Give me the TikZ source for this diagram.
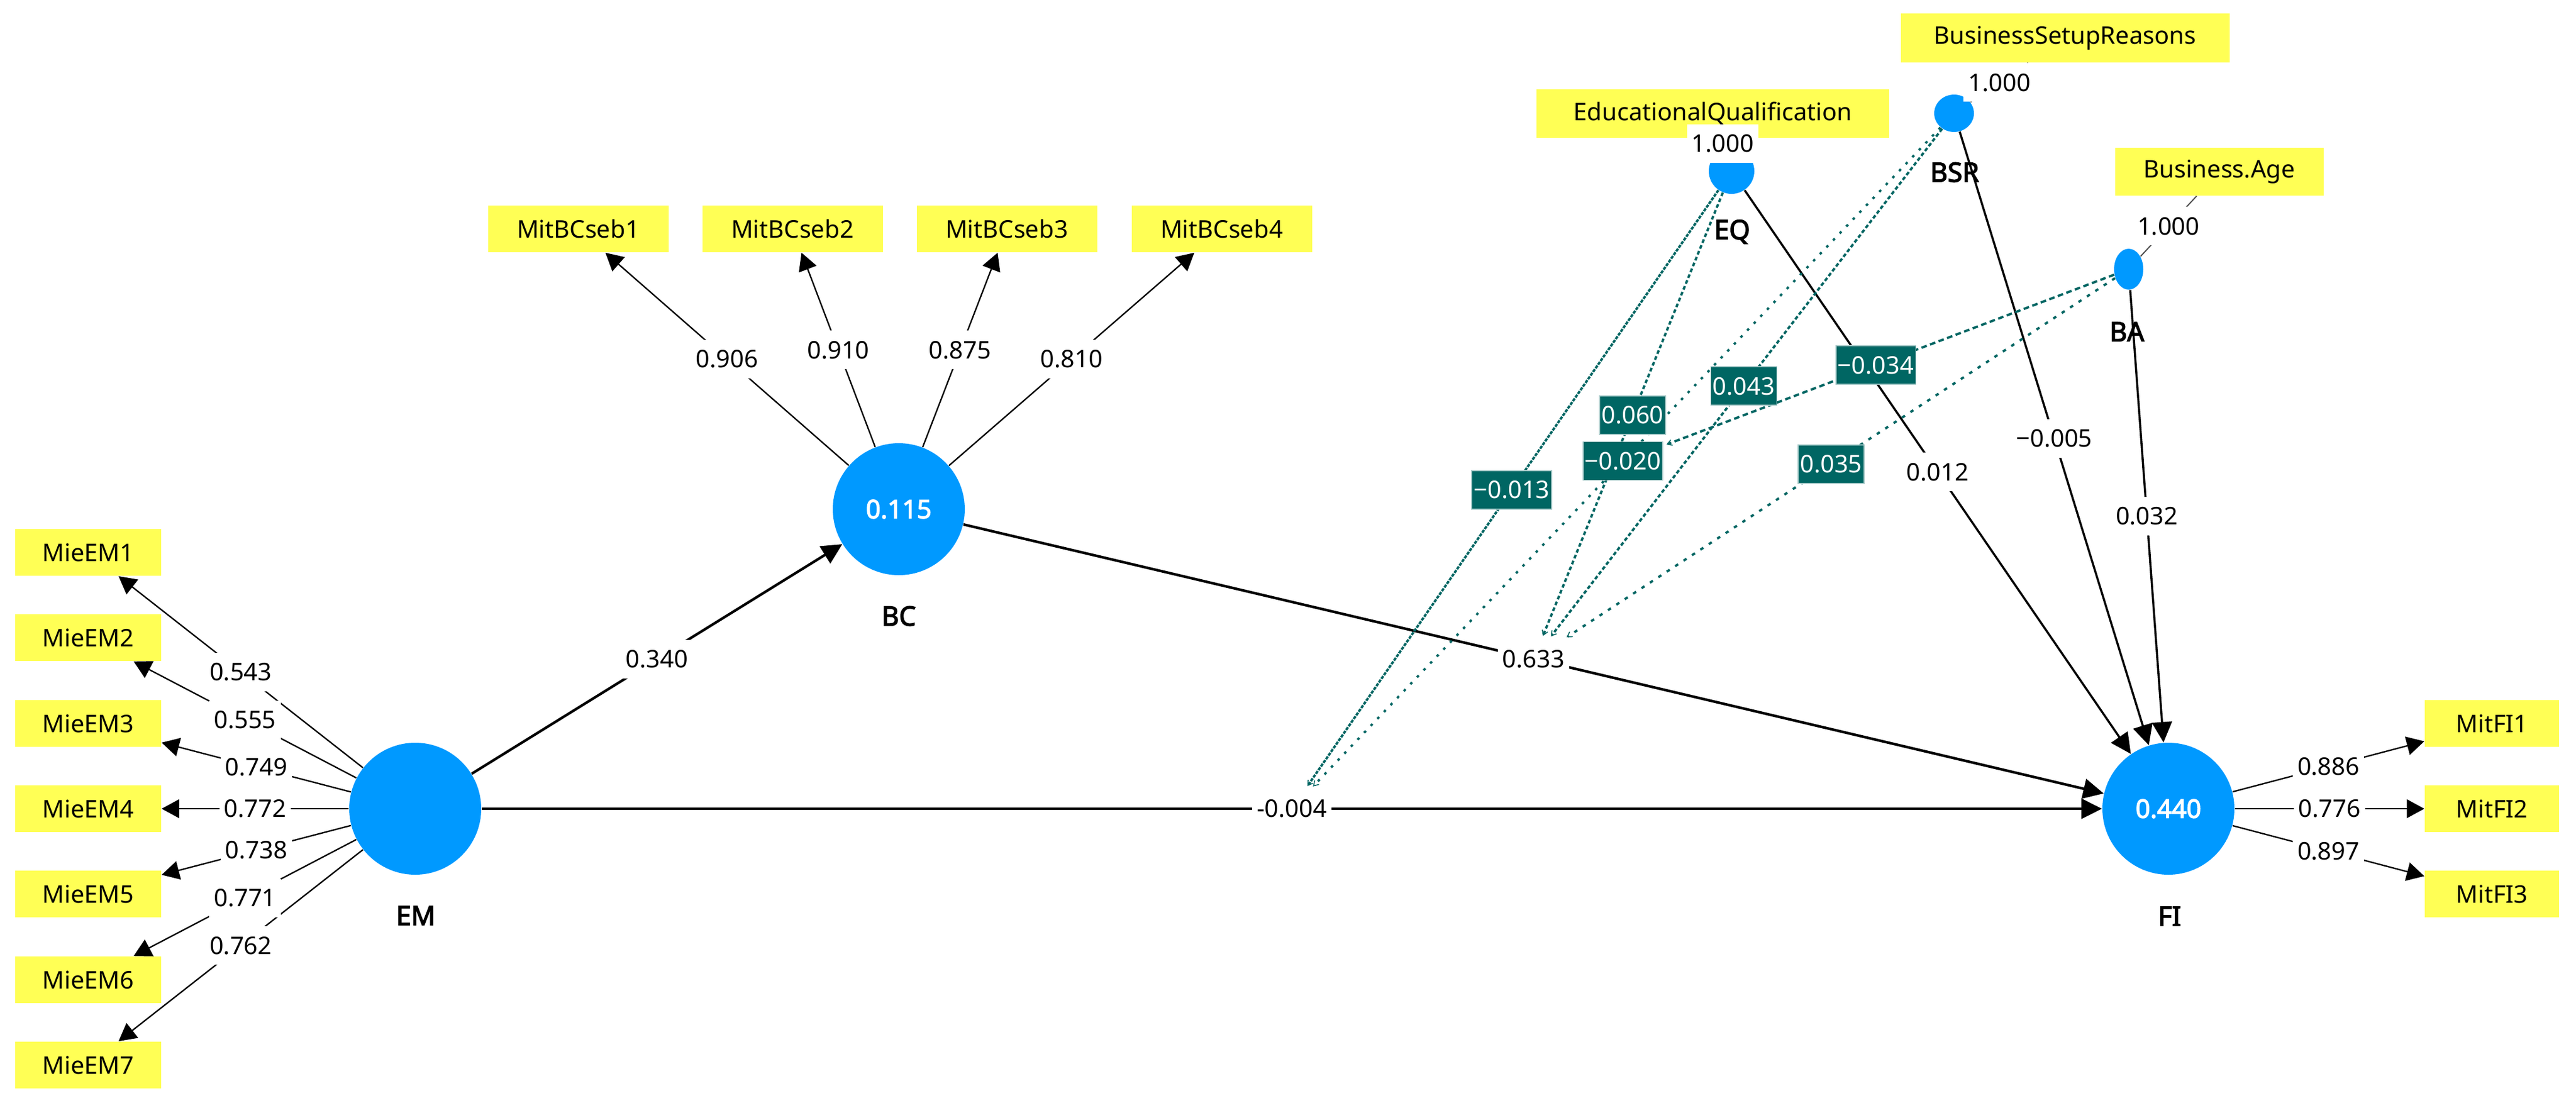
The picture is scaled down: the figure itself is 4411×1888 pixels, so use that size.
\documentclass[tikz,border=0pt]{standalone}
\usepackage{fontspec}
\setmainfont{Noto Sans}[AutoFakeBold=3]
\usetikzlibrary{arrows.meta,shapes.geometric}
\definecolor{pblue}{RGB}{0,153,255}
\definecolor{pyellow}{RGB}{255,255,85}
\definecolor{pteal}{RGB}{0,102,99}
\pgfdeclarelayer{edges}
\pgfdeclarelayer{labels}
\pgfsetlayers{edges,main,labels}
\begin{document}
\begin{tikzpicture}[x={(0.25pt,0)},y={(0,-0.25pt)},
 lv/.style={circle,fill=pblue,minimum size=56.5pt,inner sep=0pt,text=white,font=\fontsize{11}{13}\selectfont\bfseries},
 ind/.style={rectangle,fill=pyellow,inner sep=0pt,minimum height=20pt,font=\fontsize{10.4}{12}\selectfont},
 nm/.style={font=\fontsize{11.5}{13}\selectfont\bfseries},
 wl/.style={fill=white,inner xsep=2pt,inner ysep=0pt,minimum height=16.5pt,font=\fontsize{10.4}{12}\selectfont},
 tl/.style={fill=pteal,draw=pteal!35!white,line width=0.4pt,text=white,inner xsep=0.8pt,inner ysep=0pt,minimum height=16.5pt,font=\fontsize{10.4}{12}\selectfont},
 ld/.style={line width=0.6pt,-{Triangle[length=7.5pt,width=8pt]}},
 sp/.style={line width=1.1pt,-{Triangle[length=8.75pt,width=8.5pt]}},
 sptwo/.style={line width=0.9pt,-{Triangle[length=8.75pt,width=8.5pt]}},
 md/.style={pteal,line width=1pt,shorten >=1.5pt,-{Straight Barb[length=2pt,width=2.5pt,line width=0.4pt]}},
 sl/.style={line width=0.5pt,draw=black!70}
]
\useasboundingbox (0,0) rectangle (4411,1888);

% latent variables
\node[lv] (EM) at (711,1385) {};
\node[lv] (BC) at (1539,872) {0.115};
\node[lv] (FI) at (3713,1385) {0.440};
\node[circle,fill=pblue,minimum size=19.5pt,inner sep=0pt] (EQ) at (2965,293) {};
\node[ellipse,fill=pblue,minimum width=17pt,minimum height=16pt,inner sep=0pt] (BSR) at (3346,194) {};
\node[ellipse,fill=pblue,minimum width=12.5pt,minimum height=17.5pt,inner sep=0pt] (BA) at (3645,461) {};

\node[nm] (nEM) at (712,1568) {EM};
\node[nm] (nBC) at (1539,1055) {BC};
\node[nm] (nFI) at (3715,1569) {FI};
\node[nm] (nEQ) at (2966,397) {EQ};
\node[nm] (nBSR) at (3347,295) {BSR};
\node[nm] (nBA) at (3642,568) {BA};

% indicators
\foreach \i/\yy in {1/946,2/1092,3/1239,4/1385,5/1531,6/1678,7/1824}{
  \node[ind,minimum width=62.5pt] (MieEM\i) at (151,\yy) {MieEM\i};
}
\foreach \i/\xx in {1/990,2/1357,3/1724,4/2092}{
  \node[ind,minimum width=77.25pt] (MitBCseb\i) at (\xx,392) {MitBCseb\i};
}
\foreach \i/\yy in {1/1239,2/1385,3/1531}{
  \node[ind,minimum width=57.5pt] (MitFI\i) at (4267,\yy) {MitFI\i};
}
\node[ind,minimum width=151pt,minimum height=20.75pt] (EQbox) at (2933,194.5) {EducationalQualification};
\node[ind,minimum width=140.75pt,minimum height=21pt] (BSRbox) at (3536,65) {BusinessSetupReasons};
\node[ind,minimum width=89.25pt,minimum height=20.5pt] (BAbox) at (3800,294) {Business.Age};

% loadings
\foreach \i/\v in {1/0.543,2/0.555,3/0.749,4/0.772,5/0.738,6/0.771,7/0.762}{
  \begin{pgfonlayer}{edges}\draw[ld] (EM) -- (MieEM\i);\end{pgfonlayer}
  \begin{pgfonlayer}{labels}\path (EM) -- (MieEM\i) node[wl,midway] (lEM\i) {\v};\end{pgfonlayer}
}
\foreach \i/\v in {1/0.906,2/0.910,3/0.875,4/0.810}{
  \begin{pgfonlayer}{edges}\draw[ld] (BC) -- (MitBCseb\i);\end{pgfonlayer}
  \begin{pgfonlayer}{labels}\path (BC) -- (MitBCseb\i) node[wl,midway] (lBC\i) {\v};\end{pgfonlayer}
}
\foreach \i/\v in {1/0.886,2/0.776,3/0.897}{
  \begin{pgfonlayer}{edges}\draw[ld] (FI) -- (MitFI\i);\end{pgfonlayer}
  \begin{pgfonlayer}{labels}\path (FI) -- (MitFI\i) node[wl,midway] (lFI\i) {\v};\end{pgfonlayer}
}
\begin{pgfonlayer}{edges}
  \draw[sl] (EQ) -- (EQbox);
  \draw[sl] (BSR) -- (BSRbox);
  \draw[sl] (BA) -- (BAbox);
\end{pgfonlayer}
\begin{pgfonlayer}{labels}
  \path (EQ) -- (EQbox) node[wl,midway] (lEQ1) {1.000};
  \path (BSR) -- (BSRbox) node[wl,midway] (lBSR1) {1.000};
  \path (BA) -- (BAbox) node[wl,midway] (lBA1) {1.000};
\end{pgfonlayer}

% structural paths
\begin{pgfonlayer}{edges}
  \draw[sp] (EM) -- (BC);
  \draw[sp] (BC) -- (FI);
  \draw[sp] (EM) -- (FI);
  \draw[sptwo] (EQ) -- (FI);
  \draw[sptwo] (BSR) -- (FI);
  \draw[sptwo] (BA) -- (FI);
\end{pgfonlayer}
\begin{pgfonlayer}{labels}
  \path (EM) -- (BC) node[wl,midway] (lEMBC) {0.340};
  \path (BC) -- (FI) node[wl,midway] (lBCFI) {0.633};
  \path (EM) -- (FI) node[wl,midway] (lEMFI) {-0.004};
  \path (EQ) -- (FI) node[wl,midway] (lEQFI) {0.012};
  \path (BSR) -- (FI) node[wl,midway] (lBSRFI) {−0.005};
  \path (BA) -- (FI) node[wl,midway] (lBAFI) {0.032};
\end{pgfonlayer}

% moderating effects
\begin{pgfonlayer}{labels}
  \path (EQ.center) -- (lEMFI.center) node[tl,midway] (mEQA) {−0.013};
  \path (EQ.center) -- (lBCFI.center) node[tl,midway] (mEQB) {0.060};
  \path (BSR.center) -- (lEMFI.center) node[tl,midway] (mBSRA) {−0.020};
  \path (BSR.center) -- (lBCFI.center) node[tl,midway] (mBSRB) {0.043};
  \path (BA.center) -- (lBCFI.center) node[tl,midway] (mBAB) {0.035};
  \path (BA.center) -- (mBSRA.center) node[tl,midway] (mBAX) {−0.034};
\end{pgfonlayer}
\begin{pgfonlayer}{edges}
  \draw[md,dash pattern=on 1.4pt off 0.5pt] (EQ) -- (lEMFI);
  \draw[md,dash pattern=on 1.6pt off 1.1pt] (EQ) -- (lBCFI);
  \draw[md,dash pattern=on 1.1pt off 3pt] (BSR) -- (lEMFI);
  \draw[md,dash pattern=on 1.6pt off 1pt] (BSR) -- (lBCFI);
  \draw[md,dash pattern=on 1.5pt off 2.8pt] (BA) -- (lBCFI);
  \draw[md,dash pattern=on 2.4pt off 1.5pt] (BA) -- (mBSRA);
\end{pgfonlayer}
\end{tikzpicture}
\end{document}
